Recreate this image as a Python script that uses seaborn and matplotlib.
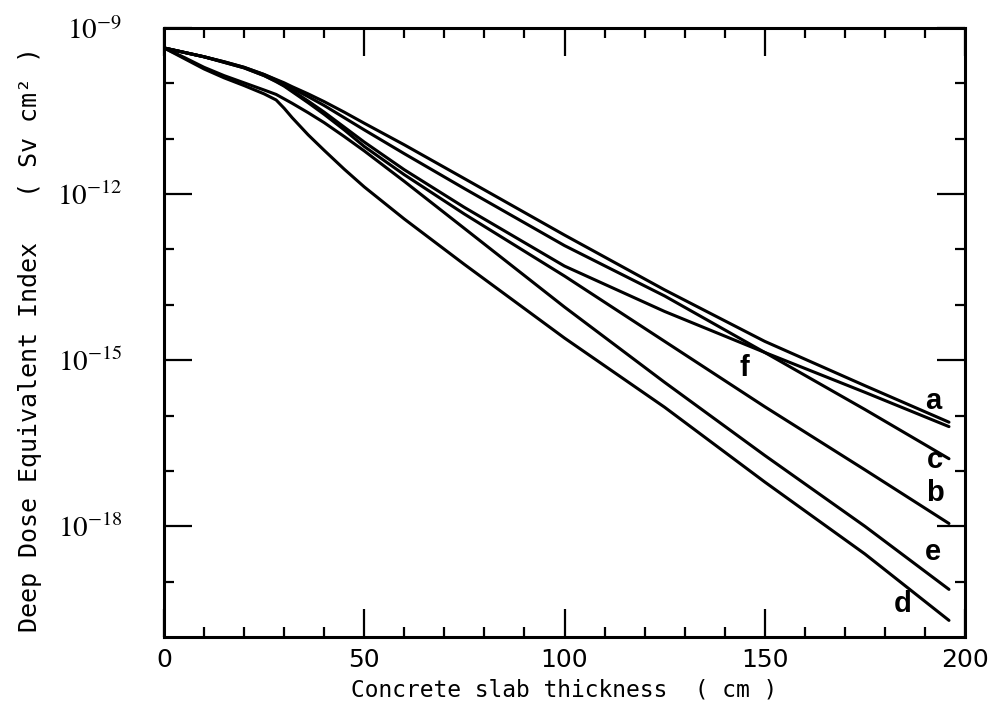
import numpy as np
import pandas as pd
import matplotlib
matplotlib.use("Agg")
import matplotlib.pyplot as plt
import seaborn as sns
from matplotlib.ticker import FixedLocator, NullFormatter, FixedFormatter

# Slab thickness (cm) at which each curve is sampled
thickness = [0, 5, 10, 15, 20, 25, 28, 30, 32, 36, 40, 45, 50, 60, 75, 100, 125, 150, 175, 196]

# Dose equivalent index per curve, stored as log10 (Sv cm^2)
exp_a = [-9.36, -9.44, -9.52, -9.61, -9.71, -9.84, -9.93, -9.99, -10.06, -10.19, -10.33, -10.52,
         -10.72, -11.11, -11.72, -12.74, -13.73, -14.66, -15.46, -16.12]
exp_b = [-9.36, -9.44, -9.52, -9.62, -9.72, -9.86, -9.97, -10.05, -10.15, -10.35, -10.56, -10.84,
         -11.14, -11.65, -12.36, -13.48, -14.66, -15.84, -16.98, -17.95]
exp_c = [-9.36, -9.44, -9.52, -9.61, -9.71, -9.84, -9.94, -10.01, -10.09, -10.24, -10.40, -10.62,
         -10.84, -11.27, -11.90, -12.93, -13.84, -14.86, -15.89, -16.78]
exp_d = [-9.36, -9.55, -9.74, -9.90, -10.04, -10.19, -10.30, -10.45, -10.62, -10.93, -11.21, -11.55,
         -11.87, -12.45, -13.27, -14.60, -15.85, -17.20, -18.50, -19.70]
exp_e = [-9.36, -9.53, -9.71, -9.86, -9.99, -10.12, -10.20, -10.28, -10.36, -10.53, -10.71, -10.96,
         -11.22, -11.77, -12.62, -14.04, -15.40, -16.72, -18.00, -19.14]
exp_f = [-9.36, -9.44, -9.52, -9.62, -9.72, -9.86, -9.96, -10.04, -10.13, -10.32, -10.52, -10.79,
         -11.06, -11.56, -12.24, -13.30, -14.12, -14.86, -15.58, -16.20]

curve_names = ["a", "b", "c", "d", "e", "f"]
curve_exps = [exp_a, exp_b, exp_c, exp_d, exp_e, exp_f]

# Curve letters and where they sit (thickness, log10 dose)
label_x = [192, 192.5, 192.5, 184.5, 192, 145]
label_y = [-15.73, -17.39, -16.81, -19.40, -18.46, -15.15]

x_major = [0, 50, 100, 150, 200]
x_tick_labels = ["0", "50", "100", "150", "200"]
y_major_exp = [-9, -12, -15, -18]
y_minor_exp = [-10, -11, -13, -14, -16, -17, -19]

frames = []
for name, ex in zip(curve_names, curve_exps):
    frames.append(pd.DataFrame({"thickness": thickness,
                                "dose": np.power(10.0, ex),
                                "curve": name}))
df = pd.concat(frames, ignore_index=True)

sns.set_style("ticks")
plt.rcParams["font.family"] = ["DejaVu Sans"]
plt.rcParams["mathtext.fontset"] = "stix"
for key in ("text.color", "axes.labelcolor", "xtick.color", "ytick.color", "axes.edgecolor"):
    plt.rcParams[key] = "black"

fig = plt.figure(figsize=(10.07, 7.04), dpi=100)
ax = fig.add_axes([164 / 1007, 1 - 637 / 704, (965 - 164) / 1007, (637 - 28) / 704])

sns.lineplot(data=df, x="thickness", y="dose", hue="curve", units="curve",
             estimator=None, palette={n: "black" for n in curve_names},
             linewidth=2.2, legend=False, sort=False, ax=ax)

ax.set_yscale("log")
ax.set_xlim(0, 200)
ax.set_ylim(1e-20, 1e-9)

for sp in ax.spines.values():
    sp.set_linewidth(2.2)
    sp.set_color("black")

ax.xaxis.set_major_locator(FixedLocator(x_major))
ax.xaxis.set_major_formatter(FixedFormatter(x_tick_labels))
ax.xaxis.set_minor_locator(FixedLocator([v for v in range(10, 200, 10) if v % 50]))
ax.yaxis.set_major_locator(FixedLocator([10.0 ** e for e in y_major_exp]))
ax.yaxis.set_major_formatter(FixedFormatter([r"$10^{%d}$" % e for e in y_major_exp]))
ax.yaxis.set_minor_locator(FixedLocator([10.0 ** e for e in y_minor_exp]))
ax.yaxis.set_minor_formatter(NullFormatter())

ax.tick_params(which="both", direction="in", top=True, right=True, color="black", width=1.6)
ax.tick_params(which="major", length=20)
ax.tick_params(which="minor", length=7)
ax.tick_params(axis="x", which="major", labelsize=18, pad=8)
ax.tick_params(axis="y", which="major", labelsize=21, pad=30)

ax.set_xlabel("Concrete slab thickness  ( cm )", fontsize=16.5, family="DejaVu Sans Mono")
ax.xaxis.set_label_coords(0.5, -0.068)
ax.set_ylabel("Deep Dose Equivalent Index   ( Sv cm² )", fontsize=18, family="DejaVu Sans Mono")
ax.yaxis.set_label_coords(-0.152, 0.488)

for name, lx, ly in zip(curve_names, label_x, label_y):
    ax.text(lx, 10.0 ** ly, name, fontsize=21, fontweight="bold",
            family="Liberation Sans", ha="center", va="center")

fig.savefig("out.png", dpi=100, facecolor="white")
